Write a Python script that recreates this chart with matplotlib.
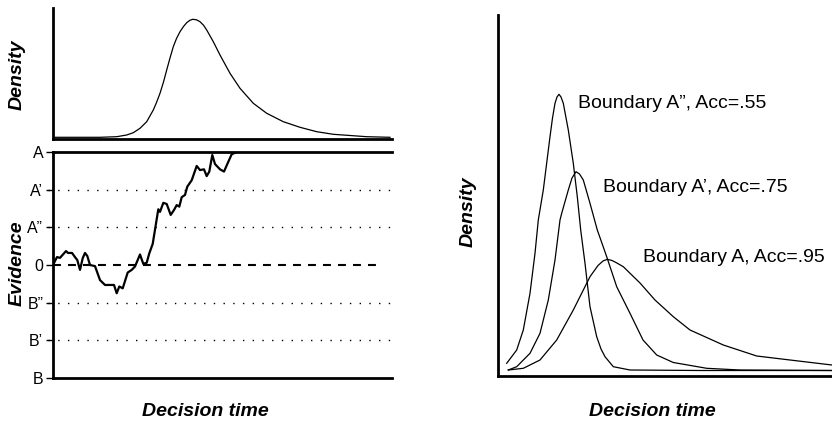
import matplotlib
matplotlib.use("Agg")
import matplotlib.pyplot as plt

plt.rcParams['font.family'] = ['Liberation Sans', 'DejaVu Sans']

# top-left: decision time density (time, density)
top_t = [0.3, 47, 63.7, 73.7, 80.3, 87, 93.7, 100.3, 103.5, 107, 110.5, 113.7, 117, 120.3, 123.5,
         127, 130.5, 133.7, 136.7, 139.7, 143.5, 147, 150.5, 153.7, 160.3, 167, 177, 187, 200.3,
         213.7, 230.3, 247, 263.7, 280.3, 313.7, 337]
top_d = [1.7, 1.7, 2.3, 4, 6.3, 10.7, 17.3, 29, 36.5, 45.7, 57, 69, 81, 92.3, 100.5,
         107.3, 112.5, 116.3, 118.6, 119.7, 119.2, 117.3, 113.8, 109, 97.3, 84, 65.7, 50.7, 35.7,
         25.7, 17.3, 11.7, 7.3, 4.7, 2.3, 1.7]

# bottom-left: evidence accumulation path
walk_t = [0, 4, 7, 13, 15, 19, 22, 24.3, 27, 29.7, 32, 34.3, 37, 42, 47, 52, 57, 61, 63.7, 66.3,
          69.7, 74.7, 78.7, 82, 87, 90.3, 93.7, 96.3, 99.7, 105.3, 107, 110.3, 113.7, 117.7, 121,
          123.7, 126.3, 128.7, 132, 134.3, 138.7, 143.7, 147, 151, 153.7, 156.3, 159.3, 162, 167,
          171, 175.3, 178.7, 183.7]
walk_e = [0, 0.21, 0.19, 0.37, 0.32, 0.32, 0.21, 0.13, -0.13, 0.18, 0.32, 0.24, 0, -0.03, -0.40,
          -0.53, -0.53, -0.53, -0.75, -0.57, -0.62, -0.20, -0.13, -0.04, 0.28, 0.03, 0.06, 0.31,
          0.56, 1.48, 1.41, 1.65, 1.62, 1.33, 1.46, 1.59, 1.55, 1.80, 1.86, 2.08, 2.25, 2.63, 2.52,
          2.54, 2.36, 2.48, 2.92, 2.68, 2.54, 2.48, 2.74, 2.94, 3.0]
bound_vals = [3, 2, 1, 0, -1, -2, -3]
bound_labels = ['A', 'A\u2019', 'A\u201d', '0', 'B\u201d', 'B\u2019', 'B']

# right: densities for three boundaries
a2_t = [8.7, 18.7, 25.3, 32, 37, 40.3, 45.3, 52, 54.5, 57, 59, 61, 63, 65.3, 70.3, 75.3, 79.3,
        82.7, 87, 92, 98.7, 103, 107, 115.3, 132, 202, 334]
a2_d = [12.7, 26, 46, 82.7, 122.7, 156, 186, 239.3, 258, 272.7, 279, 281.7, 279, 272.7, 246,
        212.7, 179.3, 146, 112.7, 69.3, 39.3, 27, 19.3, 9.3, 6, 5.5, 5.5]
a1_t = [10.3, 18.7, 32, 42, 50.3, 57, 62, 63.7, 70.3, 74, 78, 81.5, 85.3, 92, 99.3, 108.7, 118.7,
        132, 145, 158.7, 175.3, 208.7, 242, 334]
a1_d = [6, 9.3, 22.7, 42.7, 76, 116, 156, 162.7, 186, 198, 204.3, 202, 196, 172.7, 146, 119.3,
        89.3, 62.7, 36, 21, 13.5, 7.7, 6, 5.5]
a0_t = [10.3, 25.3, 42, 58.7, 75.3, 92, 100, 105, 109.3, 114, 118, 125.3, 142, 157, 175.3, 192,
        225.3, 258.7, 292, 334]
a0_d = [6, 7.7, 16, 36, 66, 99.3, 110.5, 115, 116.7, 115.5, 113.5, 109.3, 93, 76, 59.3, 46, 31,
        20, 16, 11]
curve_labels = ['Boundary A\u201d, Acc=.55', 'Boundary A\u2019, Acc=.75', 'Boundary A, Acc=.95']
label_pos = [(80.3, 272.7), (105.3, 188.3), (145.3, 118.7)]

W, H = 832, 422
fig = plt.figure(figsize=(8.32, 4.22), dpi=100)

def box(x0, y0, x1, y1):
    return [x0 / W, 1 - y1 / H, (x1 - x0) / W, (y1 - y0) / H]

spine_w = 2.0
lab_font = dict(fontsize=14, fontweight='bold', fontstyle='italic')

# top-left density
ax1 = fig.add_axes(box(53, 8, 392, 139))
ax1.plot(top_t, top_d, color='black', lw=0.9)
ax1.set_xlim(0, 339)
ax1.set_ylim(0, 131)
for s in ['top', 'right']:
    ax1.spines[s].set_visible(False)
for s in ['left', 'bottom']:
    ax1.spines[s].set_linewidth(spine_w)
ax1.set_xticks([])
ax1.set_yticks([])

# bottom-left evidence
ax2 = fig.add_axes(box(53, 152, 392, 378))
ax2.set_xlim(0, 339)
ax2.set_ylim(-3, 3)
for v in bound_vals:
    if v in (3, -3):
        continue
    if v == 0:
        ax2.plot([0, 329], [0, 0], color='black', lw=1.5, linestyle=(0, (3.8, 3.4)))
    else:
        ax2.plot([-5, 339], [v, v], color='black', lw=1.0, linestyle=(0, (1, 6.0)), clip_on=False)
ax2.plot(walk_t, walk_e, color='black', lw=1.6)
ax2.spines['right'].set_visible(False)
for s in ['left', 'top', 'bottom']:
    ax2.spines[s].set_linewidth(spine_w)
ax2.set_xticks([])
ax2.set_yticks(bound_vals)
ax2.set_yticklabels(bound_labels, fontsize=11.5)
ax2.tick_params(axis='y', length=5, width=1, pad=2)

# right densities
ax3 = fig.add_axes(box(498, 15, 832, 376))
for tt, dd in [(a2_t, a2_d), (a1_t, a1_d), (a0_t, a0_d)]:
    ax3.plot(tt, dd, color='black', lw=0.9)
for lab, (x, y) in zip(curve_labels, label_pos):
    ax3.text(x, y, lab, fontsize=14, va='center', ha='left', clip_on=False)
ax3.set_xlim(0, 334)
ax3.set_ylim(0, 361)
for s in ['top', 'right']:
    ax3.spines[s].set_visible(False)
for s in ['left', 'bottom']:
    ax3.spines[s].set_linewidth(spine_w)
ax3.set_xticks([])
ax3.set_yticks([])

# axis titles
fig.text(17 / W, 1 - 75 / H, 'Density', rotation=90, ha='center', va='center', **lab_font)
fig.text(17 / W, 1 - 263 / H, 'Evidence', rotation=90, ha='center', va='center', **lab_font)
fig.text(468 / W, 1 - 212 / H, 'Density', rotation=90, ha='center', va='center', **lab_font)
fig.text(205 / W, 1 - 411 / H, 'Decision time', ha='center', va='center', **lab_font)
fig.text(652 / W, 1 - 411 / H, 'Decision time', ha='center', va='center', **lab_font)

fig.savefig('out.png', dpi=100)
